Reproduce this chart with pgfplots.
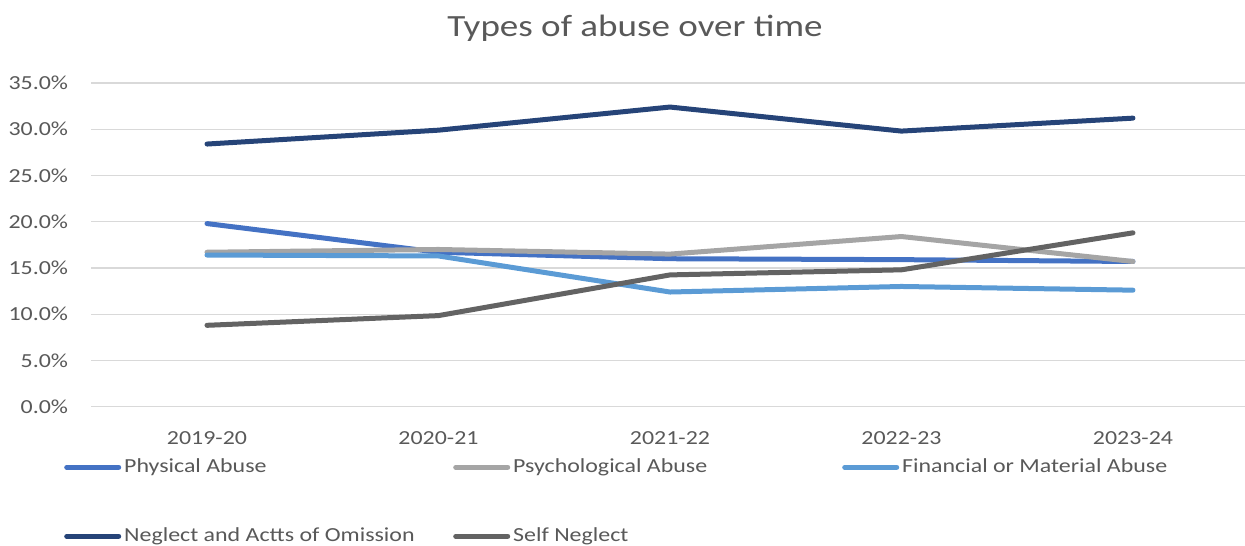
\documentclass[border=0pt]{standalone}
\usepackage{fontspec}
\setmainfont{Carlito}[FakeStretch=1.2]
\usepackage{pgfplots}
\pgfplotsset{compat=1.18}
\definecolor{physical}{HTML}{4472C4}
\definecolor{psych}{HTML}{A5A5A5}
\definecolor{financial}{HTML}{5B9BD5}
\definecolor{neglect}{HTML}{264478}
\definecolor{selfneg}{HTML}{636363}
\definecolor{txt}{HTML}{595959}
\definecolor{grid}{HTML}{D9D9D9}
\begin{document}
\begin{tikzpicture}
\begin{axis}[
    scale only axis,
    width=1153.75bp, height=323.7bp,
    xmin=0.5, xmax=5.484,
    ymin=0, ymax=35,
    xtick={1,2,3,4,5},
    xticklabels={2019-20,2020-21,2021-22,2022-23,2023-24},
    ytick={0,5,10,15,20,25,30,35},
    yticklabel={\pgfmathprintnumber[fixed,fixed zerofill,precision=1]{\tick}\%},
    /pgf/number format/assume math mode=true,
    axis line style={draw=none},
    major tick length=0pt,
    ymajorgrids=true,
    grid style={line width=1.3bp, color=grid},
    tick label style={font=\fontsize{20}{24}\selectfont, text=txt},
    xticklabel style={anchor=base, yshift=-38bp},
    yticklabel style={anchor=east, inner sep=0pt, xshift=-23bp},
    title={Types of abuse over time},
    title style={at={(axis description cs:0.4713,1.150)}, anchor=center,
        font=\fontsize{31}{36}\selectfont, text=txt},
    every axis plot/.append style={line width=5bp, line cap=round, line join=round},
    legend columns=3,
    legend style={at={(axis description cs:-0.0236,-0.1585)}, anchor=north west,
        draw=none, inner sep=0pt, column sep=3bp, row sep=51bp,
        font=\fontsize{20}{24}\selectfont, text=txt,
        nodes={inner sep=0pt, text height=14bp, text depth=4bp}},
    legend cell align=left,
    legend image code/.code={\draw[#1, line width=5bp, line cap=round] (2.5bp,0bp) -- (54.5bp,0bp);},
]
\addplot[color=physical] coordinates {(1,19.8)(2,16.7)(3,16.0)(4,15.9)(5,15.7)};
\addlegendentry{\makebox[326bp][l]{Physical Abuse}}
\addplot[color=psych] coordinates {(1,16.7)(2,17.0)(3,16.5)(4,18.4)(5,15.7)};
\addlegendentry{\makebox[326bp][l]{Psychological Abuse}}
\addplot[color=financial] coordinates {(1,16.4)(2,16.3)(3,12.4)(4,13.0)(5,12.6)};
\addlegendentry{Financial or Material Abuse}
\addplot[color=neglect] coordinates {(1,28.4)(2,29.9)(3,32.4)(4,29.8)(5,31.2)};
\addlegendentry{\makebox[326bp][l]{Neglect and Actts of Omission}}
\addplot[color=selfneg] coordinates {(1,8.8)(2,9.85)(3,14.25)(4,14.8)(5,18.8)};
\addlegendentry{Self Neglect}
\end{axis}
\pgfresetboundingbox
\path[use as bounding box] (-91.25bp,-139.3bp) rectangle (1153.75bp,406.7bp);
\end{tikzpicture}
\end{document}
